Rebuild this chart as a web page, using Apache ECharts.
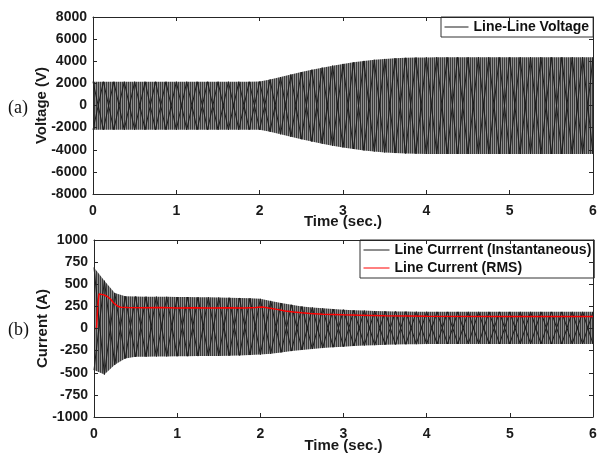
<!DOCTYPE html>
<html>
<head>
<meta charset="utf-8">
<script src="https://cdn.jsdelivr.net/npm/echarts@6/dist/echarts.min.js"></script>
<style>html,body{margin:0;padding:0;background:#fff}#c{width:598px;height:454px}</style>
</head>
<body>
<div id="c"></div>
<script>
// Sample times (s) for the waveform envelopes
const times = [0,0.125,0.25,0.375,0.5,0.625,0.75,0.875,1,1.125,1.25,1.375,1.5,1.625,1.75,1.875,2,2.125,2.25,2.375,2.5,2.625,2.75,2.875,3,3.125,3.25,3.375,3.5,3.625,3.75,3.875,4,4.125,4.25,4.375,4.5,4.625,4.75,4.875,5,5.125,5.25,5.375,5.5,5.625,5.75,5.875,6];
// Line-line voltage peaks (V)
const voltageUpper = [2150,2150,2150,2150,2150,2150,2150,2150,2150,2150,2150,2150,2150,2150,2150,2150,2170,2350,2570,2800,3020,3230,3420,3600,3760,3900,4030,4130,4210,4270,4310,4335,4350,4355,4355,4355,4355,4355,4355,4355,4355,4355,4355,4355,4355,4355,4355,4355,4355];
const voltageLower = [-2190,-2190,-2190,-2190,-2190,-2190,-2190,-2190,-2190,-2190,-2190,-2190,-2190,-2190,-2190,-2190,-2200,-2380,-2600,-2830,-3050,-3260,-3450,-3630,-3790,-3930,-4060,-4160,-4240,-4300,-4340,-4365,-4380,-4385,-4385,-4385,-4385,-4385,-4385,-4385,-4385,-4385,-4385,-4385,-4385,-4385,-4385,-4385,-4385];
// Line current instantaneous peaks (A)
const currentUpper = [690,540,400,365,362,360,360,358,356,355,354,352,350,348,345,342,335,312,288,268,250,238,228,220,213,207,202,198,195,193,191,190,189,188,188,188,188,188,188,188,188,188,188,188,188,188,188,188,188];
const currentLower = [-470,-520,-410,-340,-320,-318,-316,-315,-314,-313,-312,-311,-310,-308,-305,-300,-295,-285,-270,-255,-242,-232,-221,-212,-205,-198,-192,-188,-184,-181,-179,-177,-176,-175,-175,-175,-175,-175,-175,-175,-175,-175,-175,-175,-175,-175,-175,-175,-175];
// Line current RMS (A)
const rmsTimes = [0,0.03,0.045,0.06,0.08,0.12,0.16,0.2,0.24,0.28,0.32,0.4,0.6,0.8,1.0,1.2,1.4,1.6,1.8,1.95,2.02,2.1,2.2,2.3,2.4,2.5,2.6,2.75,3.0,3.2,3.5,4.0,5.0,6.0];
const rmsValues = [0,0,250,390,392,380,362,330,285,255,240,236,234,236,233,235,233,234,233,236,242,232,216,198,186,177,170,161,154,150,144,139,137,137];
// Axis ticks
const timeTicks = {min: 0, max: 6, interval: 1};
const voltageTicks = {min: -8000, max: 8000, interval: 2000};
const currentTicks = {min: -1000, max: 1000, interval: 250};

const FONT = '"Liberation Sans", Arial, sans-serif';
const AX = '#262626';
const pairs = (xs, ys) => xs.map((x, i) => [x, ys[i]]);
const zig = (up, lo, phase) => times.map((x, i) => [x, (i + phase) % 2 === 0 ? up[i] : lo[i]]);
const plain = v => String(v);

// fine vertical hatch pattern for the dense waveform band
const pat = document.createElement('canvas');
pat.width = 2; pat.height = 4;
const pc = pat.getContext('2d');
pc.fillStyle = '#8e8e8e'; pc.fillRect(0, 0, 2, 4);
pc.fillStyle = '#3c3c3c'; pc.fillRect(0, 0, 1, 4);

function xAx(grid, pos, showLabel, gap) {
  return {
    type: 'value', gridIndex: grid, position: pos, ...timeTicks, z: 8,
    axisLine: {show: true, onZero: false, lineStyle: {color: AX, width: 1}},
    axisTick: {show: true, inside: true, length: 4, lineStyle: {color: AX}},
    axisLabel: {show: showLabel, margin: 10, formatter: plain, color: '#1a1a1a', fontFamily: FONT, fontWeight: 'bold', fontSize: 14},
    splitLine: {show: false},
    name: showLabel ? 'Time (sec.)' : '', nameLocation: 'middle', nameGap: gap || 21, nameMoveOverlap: false,
    nameTextStyle: {color: '#1a1a1a', fontFamily: FONT, fontWeight: 'bold', fontSize: 15}
  };
}
function yAx(grid, pos, ticks, name, showLabel) {
  return {
    type: 'value', gridIndex: grid, position: pos, ...ticks, z: 8,
    axisLine: {show: true, onZero: false, lineStyle: {color: AX, width: 1}},
    axisTick: {show: true, inside: true, length: 4, lineStyle: {color: AX}},
    axisLabel: {show: showLabel, margin: 6, formatter: plain, color: '#1a1a1a', fontFamily: FONT, fontWeight: 'bold', fontSize: 14},
    splitLine: {show: false},
    name: showLabel ? name : '', nameLocation: 'middle', nameGap: 44, nameMoveOverlap: false,
    nameTextStyle: {color: '#1a1a1a', fontFamily: FONT, fontWeight: 'bold', fontSize: 15}
  };
}
// upper envelope filled down to the axis bottom with the hatch, lower envelope masks below it in white
function bandUpper(xi, yi, data) {
  return {type: 'line', xAxisIndex: xi, yAxisIndex: yi, data, symbol: 'none', silent: true,
    lineStyle: {width: 0}, areaStyle: {origin: 'start', color: {image: pat, repeat: 'repeat'}, opacity: 1}, z: 1};
}
function bandLower(xi, yi, data) {
  return {type: 'line', xAxisIndex: xi, yAxisIndex: yi, data, symbol: 'none', silent: true,
    lineStyle: {width: 0}, areaStyle: {origin: 'start', color: '#ffffff', opacity: 1}, z: 2};
}
function wave(name, xi, yi, data) {
  return {type: 'line', name, xAxisIndex: xi, yAxisIndex: yi, data, symbol: 'none', silent: true,
    color: '#1c1c1c', lineStyle: {color: '#1c1c1c', width: 1}, z: 3};
}
const legendCommon = {
  backgroundColor: '#fff', borderColor: '#333', borderWidth: 1, borderRadius: 0,
  itemHeight: 14, selectedMode: false,
  itemStyle: {opacity: 0, borderWidth: 0},
  lineStyle: {width: 1, opacity: 1},
  textStyle: {color: '#111', fontFamily: FONT, fontWeight: 'bold', fontSize: 14}
};

const chart = echarts.init(document.getElementById('c'), null, {renderer: 'canvas'});
chart.setOption({
  animation: false,
  backgroundColor: '#fff',
  grid: [
    {left: 93, top: 17, width: 500, height: 177, show: false, containLabel: false, outerBoundsMode: 'none'},
    {left: 94, top: 240, width: 499, height: 177, show: false, containLabel: false, outerBoundsMode: 'none'}
  ],
  xAxis: [xAx(0, 'bottom', true, 20), xAx(0, 'top', false), xAx(1, 'bottom', true, 21), xAx(1, 'top', false)],
  yAxis: [
    yAx(0, 'left', voltageTicks, 'Voltage (V)', true), yAx(0, 'right', voltageTicks, '', false),
    yAx(1, 'left', currentTicks, 'Current (A)', true), yAx(1, 'right', currentTicks, '', false)
  ],
  legend: [
    Object.assign({}, legendCommon, {data: ['Line-Line Voltage'], left: 441, top: 17, padding: [3, 4, 3, 3], itemWidth: 24}),
    Object.assign({}, legendCommon, {data: ['Line Currrent (Instantaneous)', 'Line Current (RMS)'], orient: 'vertical', align: 'left', left: 360, top: 240, padding: [3, 3, 3, 3], itemGap: 4, itemWidth: 26})
  ],
  graphic: [
    {type: 'text', left: 8, top: 99, style: {text: '(a)', font: '18px "Liberation Serif", "Times New Roman", serif', fill: '#111'}},
    {type: 'text', left: 8, top: 321, style: {text: '(b)', font: '18px "Liberation Serif", "Times New Roman", serif', fill: '#111'}}
  ],
  series: [
    bandUpper(0, 0, pairs(times, voltageUpper)),
    bandLower(0, 0, pairs(times, voltageLower)),
    wave('Line-Line Voltage', 0, 0, zig(voltageUpper, voltageLower, 0)),
    wave('Line-Line Voltage', 0, 0, zig(voltageUpper, voltageLower, 1)),
    bandUpper(2, 2, pairs(times, currentUpper)),
    bandLower(2, 2, pairs(times, currentLower)),
    wave('Line Currrent (Instantaneous)', 2, 2, zig(currentUpper, currentLower, 0)),
    wave('Line Currrent (Instantaneous)', 2, 2, zig(currentUpper, currentLower, 1)),
    {type: 'line', name: 'Line Current (RMS)', xAxisIndex: 2, yAxisIndex: 2, data: pairs(rmsTimes, rmsValues),
      symbol: 'none', silent: true, color: '#ff0000', lineStyle: {color: '#ff0000', width: 1.5}, z: 5}
  ]
});
</script>
</body>
</html>
